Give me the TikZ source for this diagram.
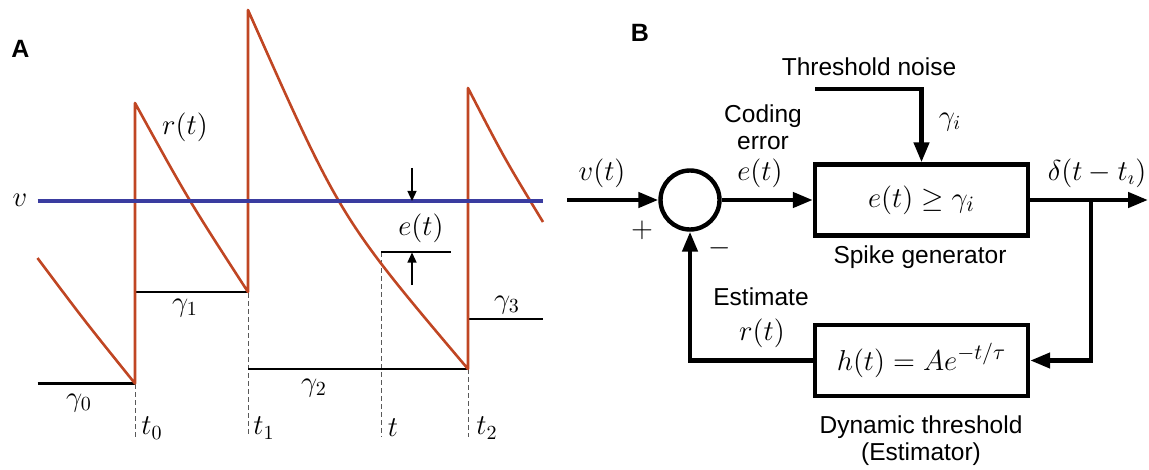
\documentclass[tikz,border=0pt]{standalone}
\usepackage{fontspec}
\setsansfont{Liberation Sans}
\usetikzlibrary{arrows.meta}
\definecolor{rcol}{RGB}{192,70,35}
\definecolor{bcol}{RGB}{58,60,160}
\begin{document}
\begin{tikzpicture}[x=0.5pt,y=-0.5pt,
  lab/.style={font=\fontsize{14}{16}\selectfont, inner sep=0pt},
  laba/.style={font=\fontsize{13.75}{16}\selectfont, inner sep=0pt},
  txt/.style={font=\sffamily\fontsize{12.25}{13.6}\selectfont, inner sep=0pt, align=center},
  panel/.style={font=\sffamily\bfseries\fontsize{12.5}{14}\selectfont, inner sep=0pt},
  blk/.style={draw, line width=2.2pt, rectangle, minimum width=106.5pt, minimum height=35.5pt, inner sep=0pt, font=\fontsize{15.5}{18}\selectfont},
  conn/.style={line width=2.2pt},
  arr/.style={conn, -{Triangle[length=10pt,width=7.5pt]}},
  rline/.style={rcol, line width=1.3pt, line join=round},
  gline/.style={black, line width=1.3pt},
  dline/.style={black!65, line width=0.5pt, dash pattern=on 2.5pt off 1.5pt},
  sarr/.style={line width=0.6pt, -{Triangle[length=5pt,width=4.5pt]}}
]
\useasboundingbox (0,0) rectangle (1149,470);

% ---------------- Panel A ----------------
\node[panel] (pA) at (20.5,49) {A};
\coordinate (a0) at (37.5,258);
\coordinate (p0) at (135,383.5);
\coordinate (q0) at (135,103);
\coordinate (p1) at (248,292);
\coordinate (q1) at (248,10);
\coordinate (p2) at (468,369);
\coordinate (q2) at (468,88);
\coordinate (a3) at (543,222);

% dashed time markers
\draw[dline] (135,384) -- (135,437);
\draw[dline] (248,293) -- (248,437);
\draw[dline] (381,252) -- (381,437);
\draw[dline] (468,369) -- (468,437);

% thresholds
\draw[gline] (37.5,383.5) -- (p0);
\draw[gline] (135,292) -- (p1);
\draw[gline] (248,369) -- (p2);
\draw[gline] (468,319) -- (543,319);

% r(t)
\draw[rline] (a0) .. controls (84.3,320.5) .. (p0) -- (q0)
  .. controls (188.1,199.4) .. (p1) -- (q1)
  .. controls (340.4,218.2) .. (p2) -- (q2)
  .. controls (504,157.7) .. (a3);

% v
\draw[bcol, line width=1.6pt] (37.5,201) -- (543,201);

% e(t) marker
\coordinate (et1) at (381,252);
\coordinate (et2) at (451,252);
\draw[line width=0.6pt] (et1) -- (et2);
\coordinate (da) at (412,168);
\coordinate (db) at (412,201);
\coordinate (ua) at (412,285);
\coordinate (ub) at (412,252.5);
\draw[sarr] (da) -- (db);
\draw[sarr] (ua) -- (ub);

\node[laba] (lv) at (20,200) {$v$};
\node[laba] (lr) at (185,127) {$r(t)$};
\node[laba] (le) at (421,228) {$e(t)$};
\node[laba] (g0) at (79,403) {$\gamma_0$};
\node[laba] (g1) at (185,308) {$\gamma_1$};
\node[laba] (g2) at (314,388) {$\gamma_2$};
\node[laba] (g3) at (507,305) {$\gamma_3$};
\node[laba] (t0) at (152,428) {$t_0$};
\node[laba] (t1) at (264,428) {$t_1$};
\node[laba] (tt) at (393,428) {$t$};
\node[laba] (t2) at (487,428) {$t_2$};

% ---------------- Panel B ----------------
\node[panel] (pB) at (640,33) {B};
\node[circle, draw, line width=2.2pt, minimum size=29.5pt, inner sep=0pt] (sum) at (690,200) {};
\node[blk] (spike) at (921.5,200) {$e(t)\geq\gamma_i$};
\node[blk] (est) at (921.5,360.5) {$h(t)=Ae^{-t/\tau}$};
\coordinate (in) at (567,200);
\coordinate (out) at (1148,200);
\coordinate (br) at (1091,200);
\coordinate (ns) at (815,89);

\draw[arr] (in) -- (sum.west);
\draw[arr] (sum.east) -- (spike.west);
\draw[arr] (spike.east) -- (out);
\draw[arr] (br) |- (est.east);
\draw[arr] (est.west) -| (sum.south);
\draw[arr] (ns) -| (spike.north);

\node[txt] (tn) at (869,67) {Threshold noise};
\node[lab] (gi) at (950,122) {$\gamma_i$};
\node[txt] (ce) at (763,127) {Coding\\error};
\node[lab] (lbe) at (760,173) {$e(t)$};
\node[lab] (lbv) at (602,173) {$v(t)$};
\node[lab] (ld) at (1097,173) {$\delta(t-t_\imath)$};
\node[txt] (sg) at (920,257) {Spike generator};
\node[txt] (es) at (761,297) {Estimate};
\node[lab] (lbr) at (762,333) {$r(t)$};
\node[lab] (plus) at (642,230) {$+$};
\node[lab] (minus) at (720,248) {$-$};
\node[txt] (dt) at (921,441) {Dynamic threshold\\(Estimator)};
\end{tikzpicture}
\end{document}
